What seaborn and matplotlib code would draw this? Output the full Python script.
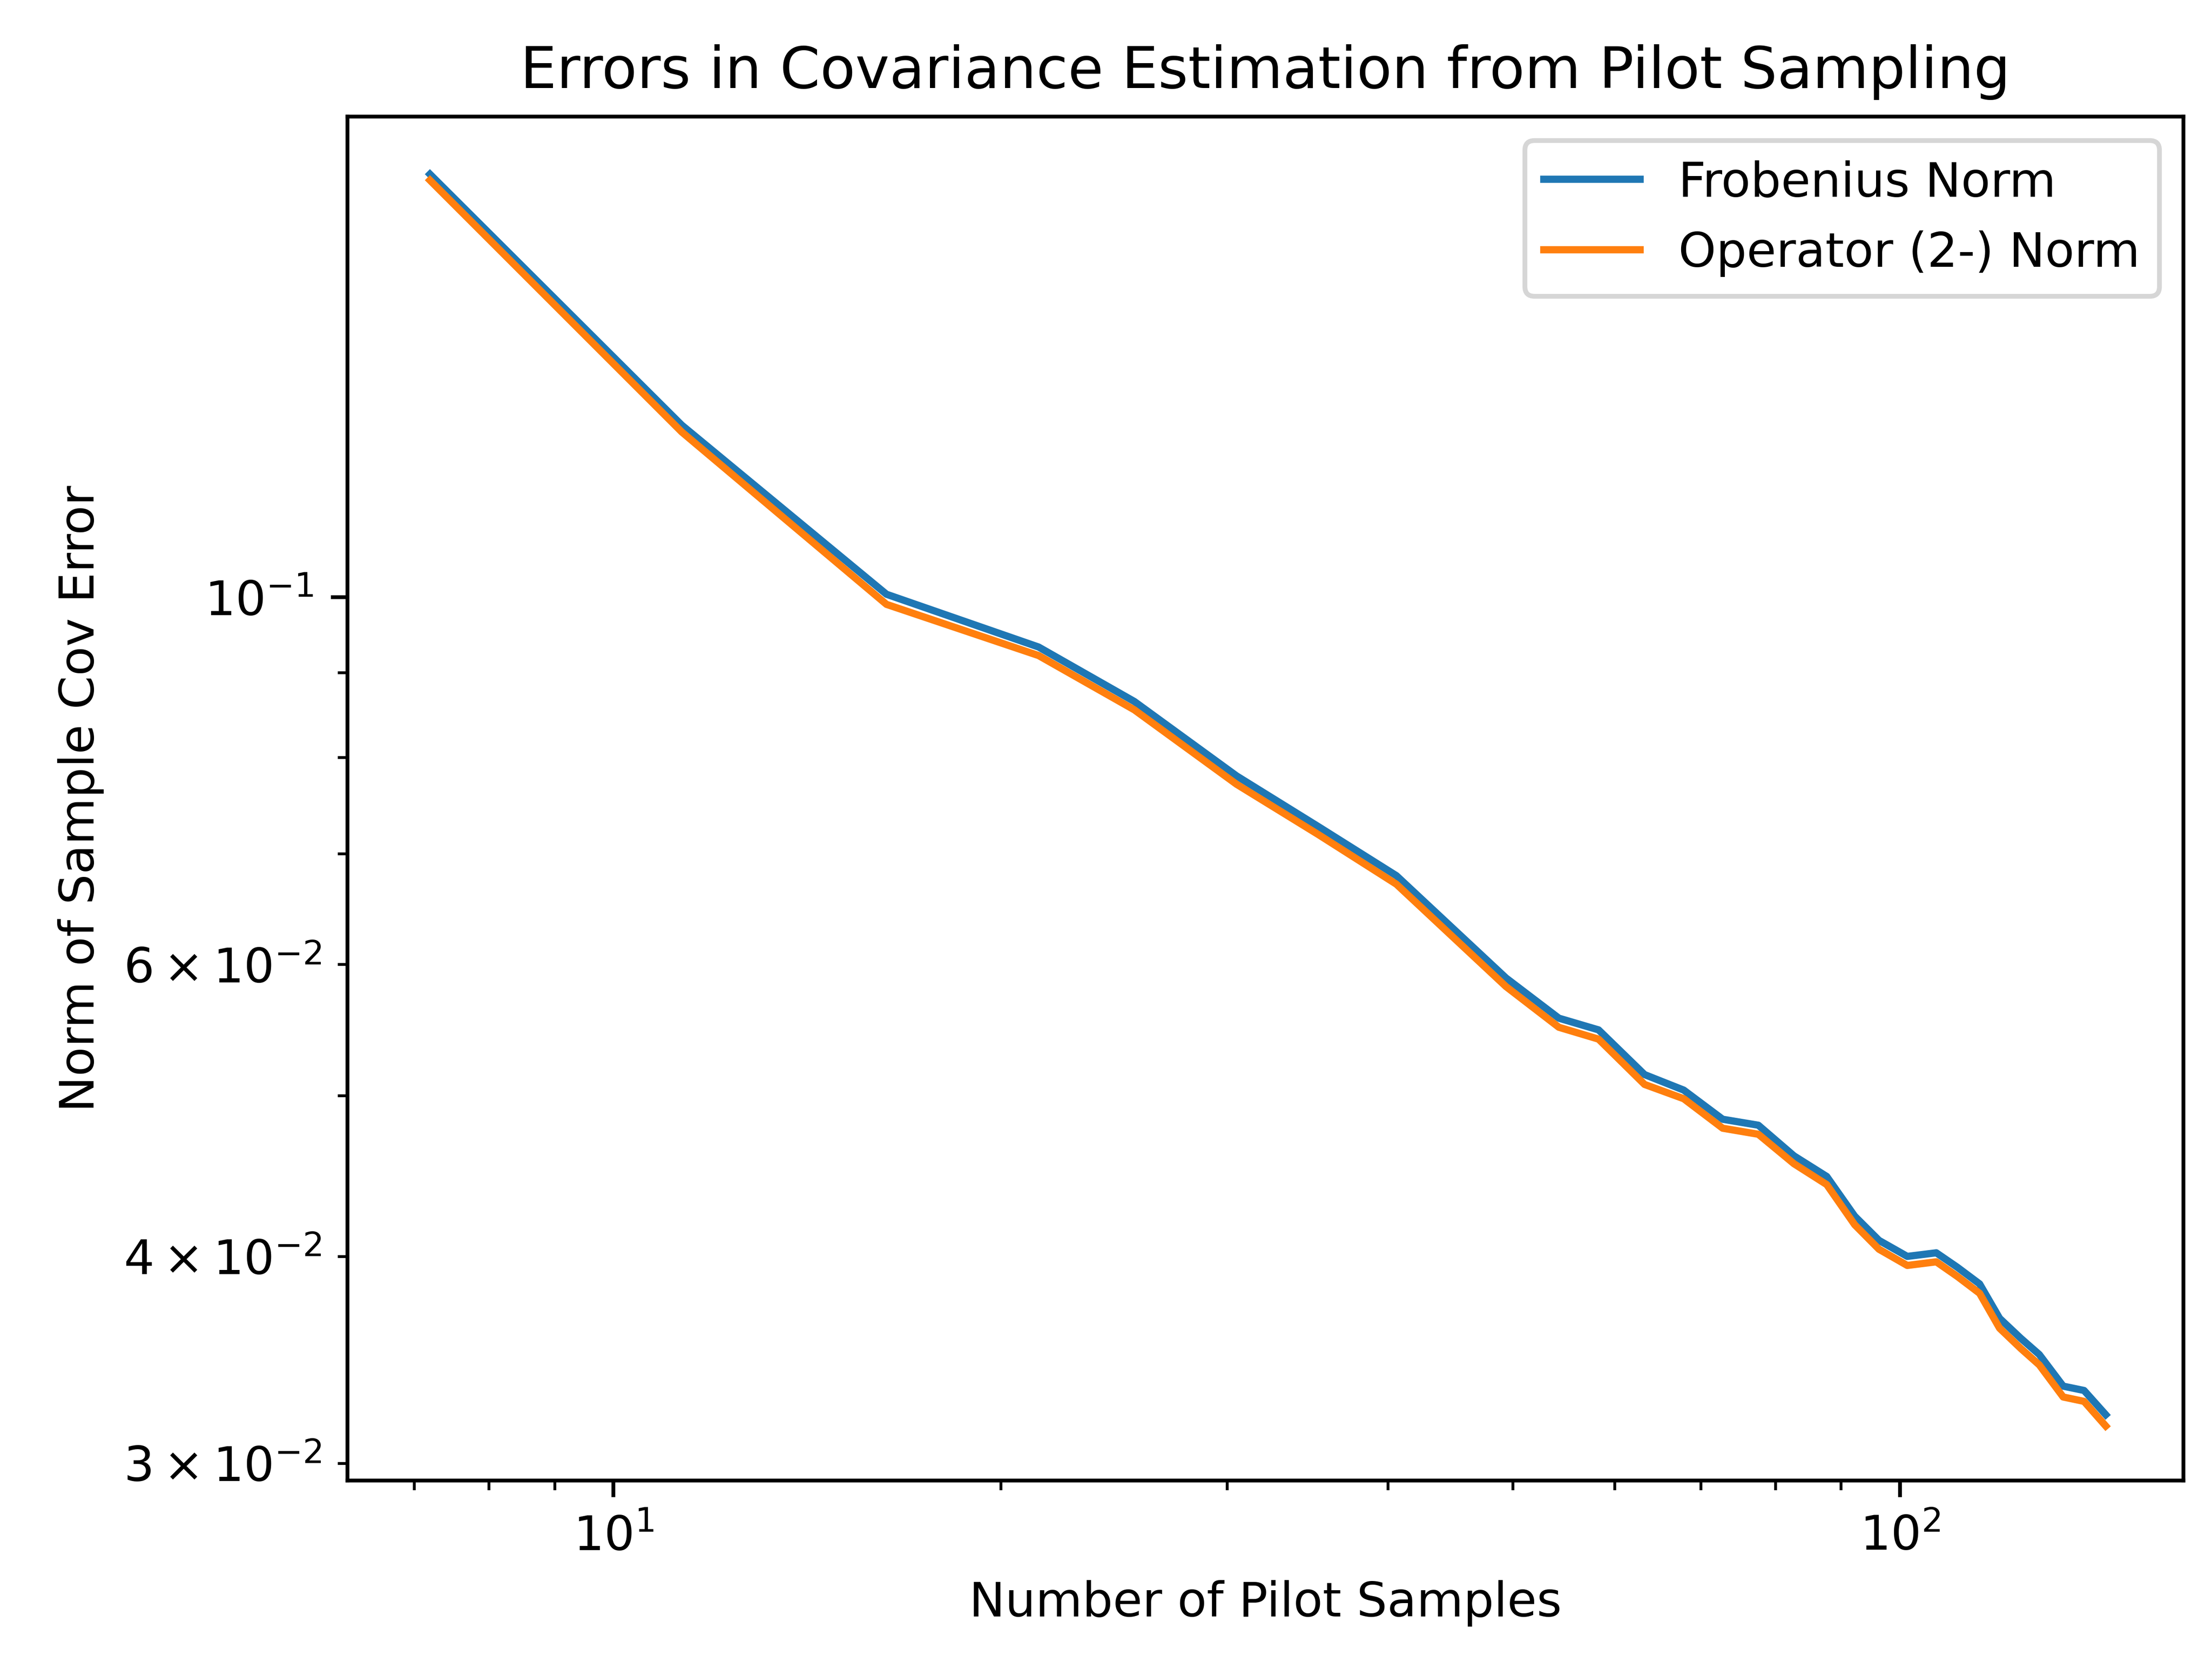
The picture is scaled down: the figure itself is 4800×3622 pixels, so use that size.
import matplotlib
matplotlib.use("Agg")
import matplotlib.pyplot as plt
import pandas as pd
import seaborn as sns

# values
n_samples = [7.2, 11.3, 16.3, 21.4, 25.4, 30.5, 35.3, 40.6, 49.4, 54.3, 58.3,
             63.3, 67.9, 72.8, 77.6, 82.7, 87.7, 92.2, 96.3, 101.3, 106.7,
             110.8, 115.3, 119.5, 124.1, 128.3, 133.9, 139.0, 144.5]
frob_err = [0.180, 0.127, 0.1004, 0.0933, 0.0865, 0.0780, 0.0727, 0.0679,
            0.0589, 0.0557, 0.0548, 0.0515, 0.0504, 0.0484, 0.0480, 0.0460,
            0.0447, 0.0423, 0.0409, 0.0400, 0.0402, 0.0394, 0.0385, 0.0367,
            0.0357, 0.0349, 0.0334, 0.0332, 0.0321]
oper_err = [0.1785, 0.1258, 0.0990, 0.0922, 0.0855, 0.0771, 0.0719, 0.0671,
            0.0582, 0.0550, 0.0541, 0.0508, 0.0498, 0.0478, 0.0474, 0.0455,
            0.0442, 0.0418, 0.0404, 0.0395, 0.0397, 0.0389, 0.0380, 0.0362,
            0.0352, 0.0344, 0.0329, 0.0327, 0.0316]

df = pd.DataFrame({
    "n": n_samples * 2,
    "err": frob_err + oper_err,
    "norm": ["Frobenius Norm"] * len(n_samples) + ["Operator (2-) Norm"] * len(n_samples),
})

fig, ax = plt.subplots(figsize=(6.4, 4.83))
sns.lineplot(data=df, x="n", y="err", hue="norm",
             palette=["#1f77b4", "#ff7f0e"], ax=ax)
ax.set_xscale("log")
ax.set_yscale("log")
ax.set_xlim(6.21, 166)
ax.set_ylim(0.0293, 0.195)
ax.set_xlabel("Number of Pilot Samples")
ax.set_ylabel("Norm of Sample Cov Error")
ax.set_title("Errors in Covariance Estimation from Pilot Sampling")
ax.legend(title=None, loc="upper right")
fig.subplots_adjust(left=0.157, right=0.987, top=0.930, bottom=0.113)
fig.savefig("out.png", dpi=750)
